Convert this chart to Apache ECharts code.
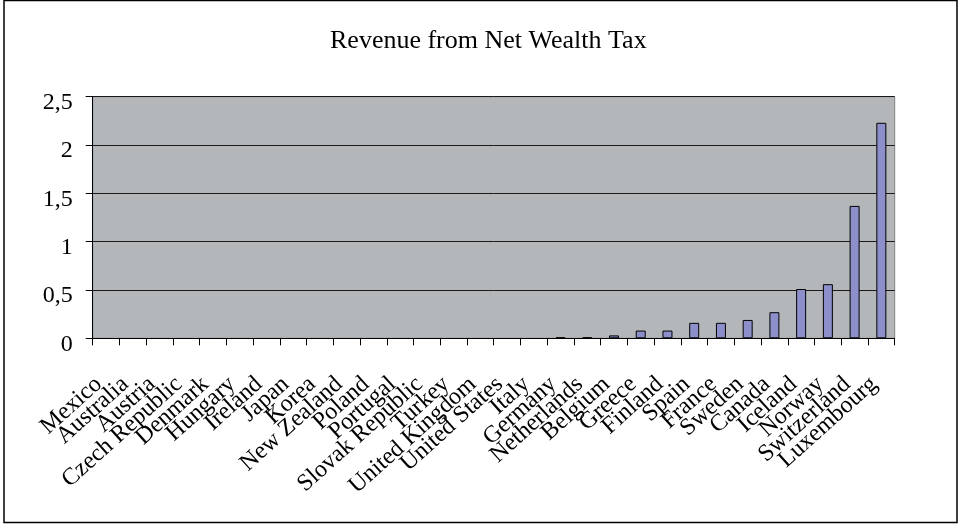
<!DOCTYPE html>
<html>
<head>
<meta charset="utf-8">
<script src="https://cdn.jsdelivr.net/npm/echarts@6/dist/echarts.min.js"></script>
<style>
  html, body { margin: 0; padding: 0; background: #ffffff; }
  #chart { width: 959px; height: 525px; }
</style>
</head>
<body>
<div id="chart"></div>
<script>
// Countries, ordered by revenue from net wealth tax (% of GDP)
const countries = [
  'Mexico', 'Australia', 'Austria', 'Czech Republic', 'Denmark', 'Hungary',
  'Ireland', 'Japan', 'Korea', 'New Zealand', 'Poland', 'Portugal',
  'Slovak Republic', 'Turkey', 'United Kingdom', 'United States', 'Italy',
  'Germany', 'Netherlands', 'Belgium', 'Greece', 'Finland', 'Spain',
  'France', 'Sweden', 'Canada', 'Iceland', 'Norway', 'Switzerland', 'Luxembourg'
];
const revenue = [
  0, 0, 0, 0, 0, 0,
  0, 0, 0, 0, 0, 0,
  0, 0, 0, 0, 0,
  0.01, 0.01, 0.03, 0.08, 0.08, 0.16,
  0.16, 0.19, 0.27, 0.51, 0.56, 1.37, 2.23
];
const yTicks = [0, 0.5, 1, 1.5, 2, 2.5];

const serif = '"Liberation Serif", "Times New Roman", serif';
const chart = echarts.init(document.getElementById('chart'), null, { renderer: 'canvas' });

// zero-revenue countries get no visible bar outline
const barData = revenue.map(v => v === 0
  ? { value: v, itemStyle: { borderWidth: 0 } }
  : v);

chart.setOption({
  backgroundColor: '#ffffff',
  animation: false,
  title: {
    text: 'Revenue from Net Wealth Tax',
    left: 325,
    top: 23,
    textStyle: { fontFamily: serif, fontSize: 26, fontWeight: 'normal', color: '#000' }
  },
  graphic: [{
    type: 'rect',
    shape: { x: 4, y: 0.5, width: 953, height: 522 },
    style: { fill: 'none', stroke: '#000', lineWidth: 1.5 },
    silent: true
  }],
  grid: {
    left: 92.7, top: 96.7, right: 64.3, bottom: 186.7,
    show: true,
    backgroundColor: '#B4B7BA',
    borderColor: '#7f7f7f',
    borderWidth: 1
  },
  xAxis: {
    type: 'category',
    data: countries,
    axisLine: { lineStyle: { color: '#000', width: 1 } },
    axisTick: { show: true, length: 7, alignWithLabel: false, lineStyle: { color: '#000' } },
    axisLabel: {
      interval: 0,
      rotate: 42,
      margin: 36,
      padding: [0, 10, 0, 0],
      fontFamily: serif,
      fontSize: 24,
      color: '#000'
    }
  },
  yAxis: {
    type: 'value',
    min: yTicks[0],
    max: yTicks[yTicks.length - 1],
    interval: yTicks[1] - yTicks[0],
    axisLine: { show: true, lineStyle: { color: '#000', width: 1 } },
    axisTick: { show: true, length: 7, lineStyle: { color: '#000' } },
    splitLine: { show: true, lineStyle: { color: '#1a1a1a', width: 1 } },
    axisLabel: {
      margin: 20,
      fontFamily: serif,
      fontSize: 24,
      color: '#000',
      verticalAlign: 'top',
      lineHeight: 12,
      formatter: v => String(v).replace('.', ',')
    }
  },
  series: [{
    type: 'bar',
    data: barData,
    barWidth: 10,
    itemStyle: { color: '#8C8FC9', borderColor: '#000', borderWidth: 1 }
  }]
});
</script>
</body>
</html>
